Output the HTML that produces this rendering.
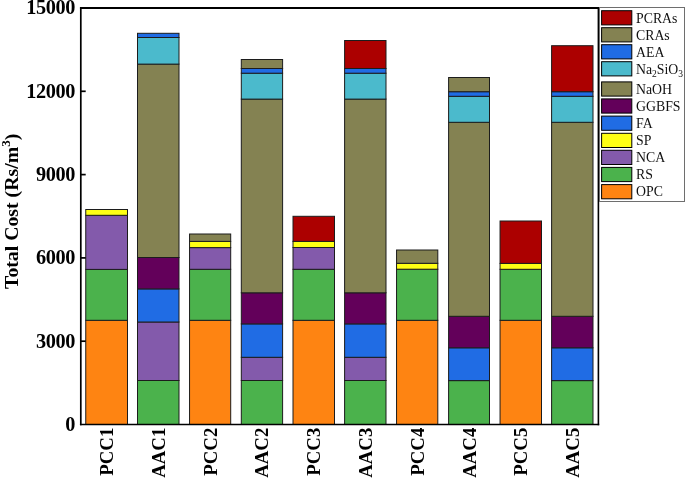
<!DOCTYPE html><html><head><meta charset="utf-8"><style>html,body{margin:0;padding:0;background:#fff;}svg{display:block;will-change:transform;}</style></head><body>
<svg width="685" height="479" viewBox="0 0 685 479">
<rect x="0" y="0" width="685" height="479" fill="#fff"/>
<rect x="85.75" y="320.30" width="41.75" height="104.20" fill="#FE8412" stroke="#1c1c1c" stroke-width="1.0"/>
<rect x="85.75" y="269.40" width="41.75" height="50.90" fill="#4BB24C" stroke="#1c1c1c" stroke-width="1.0"/>
<rect x="85.75" y="215.30" width="41.75" height="54.10" fill="#835AAB" stroke="#1c1c1c" stroke-width="1.0"/>
<rect x="85.75" y="209.50" width="41.75" height="5.80" fill="#FFFF14" stroke="#1c1c1c" stroke-width="1.0"/>
<text transform="translate(113.12,427.7) rotate(-90)" text-anchor="end" font-family="Liberation Serif, serif" font-weight="bold" font-size="18.8">PCC1</text>
<rect x="137.50" y="380.50" width="41.50" height="44.00" fill="#4BB24C" stroke="#1c1c1c" stroke-width="1.0"/>
<rect x="137.50" y="322.00" width="41.50" height="58.50" fill="#835AAB" stroke="#1c1c1c" stroke-width="1.0"/>
<rect x="137.50" y="288.90" width="41.50" height="33.10" fill="#206CE4" stroke="#1c1c1c" stroke-width="1.0"/>
<rect x="137.50" y="257.50" width="41.50" height="31.40" fill="#63005A" stroke="#1c1c1c" stroke-width="1.0"/>
<rect x="137.50" y="64.10" width="41.50" height="193.40" fill="#848252" stroke="#1c1c1c" stroke-width="1.0"/>
<rect x="137.50" y="37.50" width="41.50" height="26.60" fill="#4BBACC" stroke="#1c1c1c" stroke-width="1.0"/>
<rect x="137.50" y="33.30" width="41.50" height="4.20" fill="#206CE4" stroke="#1c1c1c" stroke-width="1.0"/>
<text transform="translate(164.75,427.7) rotate(-90)" text-anchor="end" font-family="Liberation Serif, serif" font-weight="bold" font-size="18.8">AAC1</text>
<rect x="189.55" y="320.30" width="41.15" height="104.20" fill="#FE8412" stroke="#1c1c1c" stroke-width="1.0"/>
<rect x="189.55" y="269.30" width="41.15" height="51.00" fill="#4BB24C" stroke="#1c1c1c" stroke-width="1.0"/>
<rect x="189.55" y="247.60" width="41.15" height="21.70" fill="#835AAB" stroke="#1c1c1c" stroke-width="1.0"/>
<rect x="189.55" y="241.40" width="41.15" height="6.20" fill="#FFFF14" stroke="#1c1c1c" stroke-width="1.0"/>
<rect x="189.55" y="234.00" width="41.15" height="7.40" fill="#848252" stroke="#1c1c1c" stroke-width="1.0"/>
<text transform="translate(216.62,427.7) rotate(-90)" text-anchor="end" font-family="Liberation Serif, serif" font-weight="bold" font-size="18.8">PCC2</text>
<rect x="241.30" y="380.50" width="41.30" height="44.00" fill="#4BB24C" stroke="#1c1c1c" stroke-width="1.0"/>
<rect x="241.30" y="357.30" width="41.30" height="23.20" fill="#835AAB" stroke="#1c1c1c" stroke-width="1.0"/>
<rect x="241.30" y="323.90" width="41.30" height="33.40" fill="#206CE4" stroke="#1c1c1c" stroke-width="1.0"/>
<rect x="241.30" y="292.80" width="41.30" height="31.10" fill="#63005A" stroke="#1c1c1c" stroke-width="1.0"/>
<rect x="241.30" y="99.10" width="41.30" height="193.70" fill="#848252" stroke="#1c1c1c" stroke-width="1.0"/>
<rect x="241.30" y="73.20" width="41.30" height="25.90" fill="#4BBACC" stroke="#1c1c1c" stroke-width="1.0"/>
<rect x="241.30" y="68.50" width="41.30" height="4.70" fill="#206CE4" stroke="#1c1c1c" stroke-width="1.0"/>
<rect x="241.30" y="59.50" width="41.30" height="9.00" fill="#848252" stroke="#1c1c1c" stroke-width="1.0"/>
<text transform="translate(268.45,427.7) rotate(-90)" text-anchor="end" font-family="Liberation Serif, serif" font-weight="bold" font-size="18.8">AAC2</text>
<rect x="293.00" y="320.30" width="41.50" height="104.20" fill="#FE8412" stroke="#1c1c1c" stroke-width="1.0"/>
<rect x="293.00" y="269.30" width="41.50" height="51.00" fill="#4BB24C" stroke="#1c1c1c" stroke-width="1.0"/>
<rect x="293.00" y="247.50" width="41.50" height="21.80" fill="#835AAB" stroke="#1c1c1c" stroke-width="1.0"/>
<rect x="293.00" y="241.40" width="41.50" height="6.10" fill="#FFFF14" stroke="#1c1c1c" stroke-width="1.0"/>
<rect x="293.00" y="216.30" width="41.50" height="25.10" fill="#AC0000" stroke="#1c1c1c" stroke-width="1.0"/>
<text transform="translate(320.25,427.7) rotate(-90)" text-anchor="end" font-family="Liberation Serif, serif" font-weight="bold" font-size="18.8">PCC3</text>
<rect x="344.60" y="380.50" width="41.40" height="44.00" fill="#4BB24C" stroke="#1c1c1c" stroke-width="1.0"/>
<rect x="344.60" y="357.30" width="41.40" height="23.20" fill="#835AAB" stroke="#1c1c1c" stroke-width="1.0"/>
<rect x="344.60" y="323.90" width="41.40" height="33.40" fill="#206CE4" stroke="#1c1c1c" stroke-width="1.0"/>
<rect x="344.60" y="292.80" width="41.40" height="31.10" fill="#63005A" stroke="#1c1c1c" stroke-width="1.0"/>
<rect x="344.60" y="99.10" width="41.40" height="193.70" fill="#848252" stroke="#1c1c1c" stroke-width="1.0"/>
<rect x="344.60" y="73.20" width="41.40" height="25.90" fill="#4BBACC" stroke="#1c1c1c" stroke-width="1.0"/>
<rect x="344.60" y="68.50" width="41.40" height="4.70" fill="#206CE4" stroke="#1c1c1c" stroke-width="1.0"/>
<rect x="344.60" y="40.50" width="41.40" height="28.00" fill="#AC0000" stroke="#1c1c1c" stroke-width="1.0"/>
<text transform="translate(371.80,427.7) rotate(-90)" text-anchor="end" font-family="Liberation Serif, serif" font-weight="bold" font-size="18.8">AAC3</text>
<rect x="396.55" y="320.30" width="41.25" height="104.20" fill="#FE8412" stroke="#1c1c1c" stroke-width="1.0"/>
<rect x="396.55" y="269.20" width="41.25" height="51.10" fill="#4BB24C" stroke="#1c1c1c" stroke-width="1.0"/>
<rect x="396.55" y="263.30" width="41.25" height="5.90" fill="#FFFF14" stroke="#1c1c1c" stroke-width="1.0"/>
<rect x="396.55" y="250.00" width="41.25" height="13.30" fill="#848252" stroke="#1c1c1c" stroke-width="1.0"/>
<text transform="translate(423.68,427.7) rotate(-90)" text-anchor="end" font-family="Liberation Serif, serif" font-weight="bold" font-size="18.8">PCC4</text>
<rect x="448.60" y="380.60" width="40.90" height="43.90" fill="#4BB24C" stroke="#1c1c1c" stroke-width="1.0"/>
<rect x="448.60" y="347.80" width="40.90" height="32.80" fill="#206CE4" stroke="#1c1c1c" stroke-width="1.0"/>
<rect x="448.60" y="316.30" width="40.90" height="31.50" fill="#63005A" stroke="#1c1c1c" stroke-width="1.0"/>
<rect x="448.60" y="122.30" width="40.90" height="194.00" fill="#848252" stroke="#1c1c1c" stroke-width="1.0"/>
<rect x="448.60" y="96.30" width="40.90" height="26.00" fill="#4BBACC" stroke="#1c1c1c" stroke-width="1.0"/>
<rect x="448.60" y="91.70" width="40.90" height="4.60" fill="#206CE4" stroke="#1c1c1c" stroke-width="1.0"/>
<rect x="448.60" y="77.50" width="40.90" height="14.20" fill="#848252" stroke="#1c1c1c" stroke-width="1.0"/>
<text transform="translate(475.55,427.7) rotate(-90)" text-anchor="end" font-family="Liberation Serif, serif" font-weight="bold" font-size="18.8">AAC4</text>
<rect x="500.05" y="320.30" width="41.45" height="104.20" fill="#FE8412" stroke="#1c1c1c" stroke-width="1.0"/>
<rect x="500.05" y="269.30" width="41.45" height="51.00" fill="#4BB24C" stroke="#1c1c1c" stroke-width="1.0"/>
<rect x="500.05" y="263.40" width="41.45" height="5.90" fill="#FFFF14" stroke="#1c1c1c" stroke-width="1.0"/>
<rect x="500.05" y="221.00" width="41.45" height="42.40" fill="#AC0000" stroke="#1c1c1c" stroke-width="1.0"/>
<text transform="translate(527.27,427.7) rotate(-90)" text-anchor="end" font-family="Liberation Serif, serif" font-weight="bold" font-size="18.8">PCC5</text>
<rect x="551.60" y="380.60" width="41.40" height="43.90" fill="#4BB24C" stroke="#1c1c1c" stroke-width="1.0"/>
<rect x="551.60" y="347.80" width="41.40" height="32.80" fill="#206CE4" stroke="#1c1c1c" stroke-width="1.0"/>
<rect x="551.60" y="316.30" width="41.40" height="31.50" fill="#63005A" stroke="#1c1c1c" stroke-width="1.0"/>
<rect x="551.60" y="122.30" width="41.40" height="194.00" fill="#848252" stroke="#1c1c1c" stroke-width="1.0"/>
<rect x="551.60" y="96.30" width="41.40" height="26.00" fill="#4BBACC" stroke="#1c1c1c" stroke-width="1.0"/>
<rect x="551.60" y="91.70" width="41.40" height="4.60" fill="#206CE4" stroke="#1c1c1c" stroke-width="1.0"/>
<rect x="551.60" y="45.70" width="41.40" height="46.00" fill="#AC0000" stroke="#1c1c1c" stroke-width="1.0"/>
<text transform="translate(578.80,427.7) rotate(-90)" text-anchor="end" font-family="Liberation Serif, serif" font-weight="bold" font-size="18.8">AAC5</text>
<line x1="80.8" x2="80.8" y1="6.95" y2="425.2" stroke="#000" stroke-width="1.7"/><line x1="598.4" x2="598.4" y1="6.95" y2="425.2" stroke="#000" stroke-width="1.6"/><line x1="79.95" x2="599.2" y1="7.95" y2="7.95" stroke="#000" stroke-width="2"/><line x1="79.95" x2="599.2" y1="424.5" y2="424.5" stroke="#000" stroke-width="1.4"/>
<line x1="81" x2="85.7" y1="341.20" y2="341.20" stroke="#000" stroke-width="1.7"/>
<line x1="81" x2="85.7" y1="257.90" y2="257.90" stroke="#000" stroke-width="1.7"/>
<line x1="81" x2="85.7" y1="174.60" y2="174.60" stroke="#000" stroke-width="1.7"/>
<line x1="81" x2="85.7" y1="91.30" y2="91.30" stroke="#000" stroke-width="1.7"/>
<text x="75" y="430.90" text-anchor="end" font-family="Liberation Serif, serif" font-weight="bold" font-size="20.3" letter-spacing="-0.4">0</text>
<text x="75" y="347.60" text-anchor="end" font-family="Liberation Serif, serif" font-weight="bold" font-size="20.3" letter-spacing="-0.4">3000</text>
<text x="75" y="264.30" text-anchor="end" font-family="Liberation Serif, serif" font-weight="bold" font-size="20.3" letter-spacing="-0.4">6000</text>
<text x="75" y="181.00" text-anchor="end" font-family="Liberation Serif, serif" font-weight="bold" font-size="20.3" letter-spacing="-0.4">9000</text>
<text x="75" y="97.70" text-anchor="end" font-family="Liberation Serif, serif" font-weight="bold" font-size="20.3" letter-spacing="-0.4">12000</text>
<text x="75" y="14.40" text-anchor="end" font-family="Liberation Serif, serif" font-weight="bold" font-size="20.3" letter-spacing="-0.4">15000</text>
<text transform="translate(17.9,289) rotate(-90)" font-family="Liberation Serif, serif" font-weight="bold" font-size="19.8">Total Cost (Rs/m<tspan font-size="13" dy="-8">3</tspan><tspan dy="8">)</tspan></text>
<rect x="599.5" y="7.5" width="85" height="194" fill="#fff" stroke="#6e6e6e" stroke-width="1"/>
<rect x="601.6" y="10.70" width="30.2" height="14.2" fill="#AC0000" stroke="#000" stroke-width="1"/>
<text x="636" y="22.50" font-family="Liberation Serif, serif" font-size="13.8" fill="#111">PCRAs</text>
<rect x="601.6" y="27.70" width="30.2" height="14.2" fill="#848252" stroke="#000" stroke-width="1"/>
<text x="636" y="39.50" font-family="Liberation Serif, serif" font-size="13.8" fill="#111">CRAs</text>
<rect x="601.6" y="44.70" width="30.2" height="14.2" fill="#206CE4" stroke="#000" stroke-width="1"/>
<text x="636" y="56.50" font-family="Liberation Serif, serif" font-size="13.8" fill="#111">AEA</text>
<rect x="601.6" y="61.70" width="30.2" height="14.2" fill="#4BBACC" stroke="#000" stroke-width="1"/>
<text x="636" y="73.50" font-family="Liberation Serif, serif" font-size="13.8" fill="#111">Na<tspan font-size="9.5" dy="3.2">2</tspan><tspan dy="-3.2">SiO</tspan><tspan font-size="9.5" dy="3.2">3</tspan></text>
<rect x="601.6" y="81.90" width="30.2" height="14.2" fill="#848252" stroke="#000" stroke-width="1"/>
<text x="636" y="93.70" font-family="Liberation Serif, serif" font-size="13.8" fill="#111">NaOH</text>
<rect x="601.6" y="98.90" width="30.2" height="14.2" fill="#63005A" stroke="#000" stroke-width="1"/>
<text x="636" y="110.70" font-family="Liberation Serif, serif" font-size="13.8" fill="#111">GGBFS</text>
<rect x="601.6" y="116.10" width="30.2" height="14.2" fill="#206CE4" stroke="#000" stroke-width="1"/>
<text x="636" y="127.90" font-family="Liberation Serif, serif" font-size="13.8" fill="#111">FA</text>
<rect x="601.6" y="133.30" width="30.2" height="14.2" fill="#FFFF14" stroke="#000" stroke-width="1"/>
<text x="636" y="145.10" font-family="Liberation Serif, serif" font-size="13.8" fill="#111">SP</text>
<rect x="601.6" y="150.30" width="30.2" height="14.2" fill="#835AAB" stroke="#000" stroke-width="1"/>
<text x="636" y="162.10" font-family="Liberation Serif, serif" font-size="13.8" fill="#111">NCA</text>
<rect x="601.6" y="167.40" width="30.2" height="14.2" fill="#4BB24C" stroke="#000" stroke-width="1"/>
<text x="636" y="179.20" font-family="Liberation Serif, serif" font-size="13.8" fill="#111">RS</text>
<rect x="601.6" y="184.60" width="30.2" height="14.2" fill="#FE8412" stroke="#000" stroke-width="1"/>
<text x="636" y="196.40" font-family="Liberation Serif, serif" font-size="13.8" fill="#111">OPC</text>
</svg></body></html>
